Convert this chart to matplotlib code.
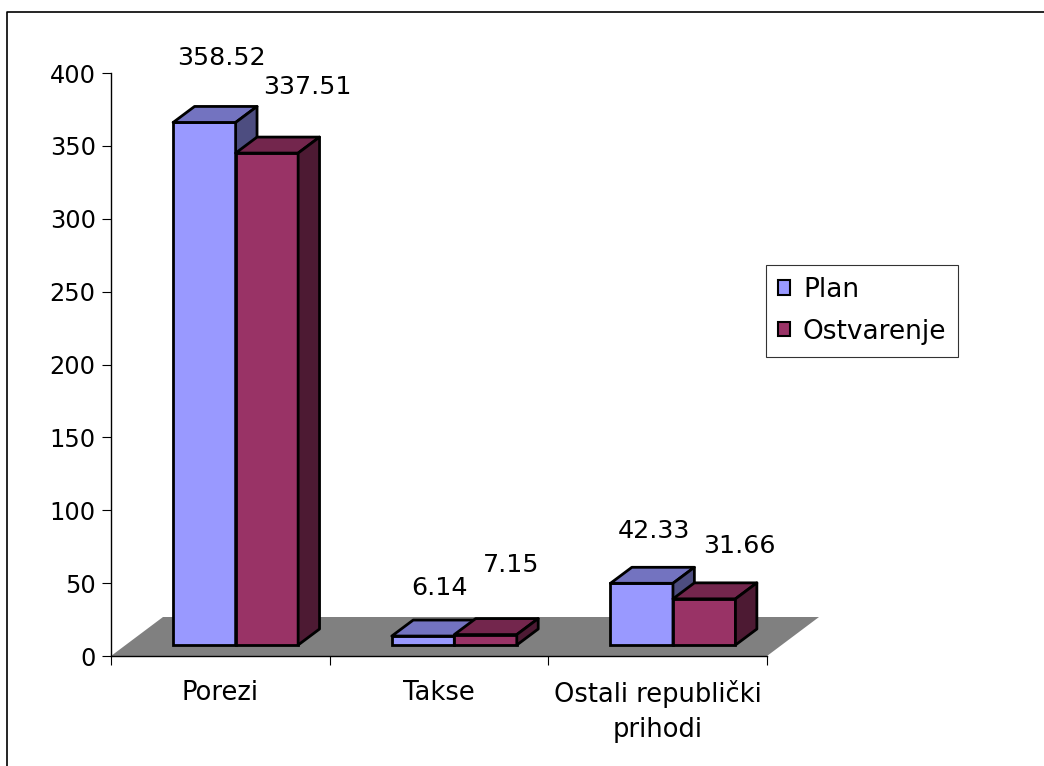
import matplotlib
matplotlib.use("Agg")
import matplotlib.pyplot as plt
from matplotlib.patches import Polygon, Patch
from matplotlib.lines import Line2D

# ---- data ----
categories = ["Porezi", "Takse", "Ostali republički\nprihodi"]
series_names = ["Plan", "Ostvarenje"]
plan = [358.52, 6.14, 42.33]
ostvarenje = [337.51, 7.15, 31.66]
label_texts_plan = ["358.52", "6.14", "42.33"]
label_texts_ost = ["337.51", "7.15", "31.66"]
y_ticks = [0, 50, 100, 150, 200, 250, 300, 350, 400]

# ---- style ----
plan_colors = {"front": "#9999FF", "top": "#7373C0", "side": "#4D4D80"}
ost_colors = {"front": "#993366", "top": "#73264D", "side": "#4D1A33"}
floor_color = "#808080"
# label offsets (pixels) relative to top-centre of bar front face
label_offsets_plan = [(17, 64), (16, 48), (12, 52)]
label_offsets_ost = [(40, 66), (26, 70), (35, 53)]

W, H = 1044, 766
fig = plt.figure(figsize=(W / 100, H / 100), dpi=100)
plt.rcParams["font.family"] = ["DejaVu Sans"]

ax_l, ax_r, ax_t, ax_b = 111, 767, 73, 656
ax = fig.add_axes([ax_l / W, (H - ax_b) / H, (ax_r - ax_l) / W, (ax_b - ax_t) / H])
ax.set_xlim(-0.5, len(categories) - 0.5)
ax.set_ylim(0, 400)

px_x = (ax_r - ax_l) / len(categories)   # pixels per x unit
px_y = (ax_b - ax_t) / 400.0             # pixels per y unit

def dx(p):
    return p / px_x

def dy(p):
    return p / px_y

# 3D geometry (pixels)
gap_front = (15.3, 11.0)
bar_depth = (21.4, 16.0)
floor_depth = (52.0, 39.0)
bar_w = dx(62.5)

# floor
x0, x1 = -0.5, len(categories) - 0.5
floor = Polygon([(x0, 0), (x1, 0), (x1 + dx(floor_depth[0]), dy(floor_depth[1])),
                 (x0 + dx(floor_depth[0]), dy(floor_depth[1]))],
                closed=True, facecolor=floor_color, edgecolor="none", zorder=1, clip_on=False)
ax.add_patch(floor)

lw = 2.0
fx, fy = dx(gap_front[0]), dy(gap_front[1])
ddx, ddy = dx(bar_depth[0]), dy(bar_depth[1])

def draw_bar(xl, val, cols, z):
    bottom = fy
    top = fy + val
    xr = xl + bar_w
    ax.bar([xl], [val], bottom=bottom, width=bar_w, align="edge",
           facecolor=cols["front"], edgecolor="black", linewidth=lw, zorder=z, clip_on=False)
    ax.add_patch(Polygon([(xl, top), (xl + ddx, top + ddy), (xr + ddx, top + ddy), (xr, top)],
                         closed=True, facecolor=cols["top"], edgecolor="black", linewidth=lw,
                         joinstyle="round", zorder=z, clip_on=False))
    ax.add_patch(Polygon([(xr, bottom), (xr + ddx, bottom + ddy), (xr + ddx, top + ddy), (xr, top)],
                         closed=True, facecolor=cols["side"], edgecolor="black", linewidth=lw,
                         joinstyle="round", zorder=z, clip_on=False))
    return (xl + xr) / 2, top

for i in range(len(categories)):
    c = i + fx
    cx, top = draw_bar(c - bar_w, plan[i], plan_colors, 3 + 2 * i)
    ax.annotate(label_texts_plan[i], xy=(cx, top), xytext=label_offsets_plan[i],
                textcoords="offset pixels", ha="center", va="center", fontsize=18.3,
                annotation_clip=False, zorder=20)
    cx, top = draw_bar(c, ostvarenje[i], ost_colors, 4 + 2 * i)
    ax.annotate(label_texts_ost[i], xy=(cx, top), xytext=label_offsets_ost[i],
                textcoords="offset pixels", ha="center", va="center", fontsize=18.3,
                annotation_clip=False, zorder=20)

# axes styling
for s in ["top", "right"]:
    ax.spines[s].set_visible(False)
ax.spines["left"].set_linewidth(1.0)
ax.spines["bottom"].set_linewidth(1.0)
ax.spines["left"].set_zorder(30)
ax.spines["bottom"].set_zorder(30)
ax.set_facecolor("none")
ax.set_yticks(y_ticks)
ax.set_yticklabels([str(t) for t in y_ticks], fontsize=17.3)
ax.tick_params(axis="y", length=6.5, width=0.8, pad=4.5, direction="out")
ax.set_xticks(range(len(categories)))
ax.set_xticklabels(categories, fontsize=18.5, linespacing=1.45)
ax.set_xticks([k - 0.5 for k in range(len(categories) + 1)], minor=True)
ax.tick_params(axis="x", which="major", length=0, pad=17)
ax.tick_params(axis="x", which="minor", length=6.5, width=0.8, direction="out")

# legend
handles = [Patch(facecolor=plan_colors["front"], edgecolor="black", linewidth=1.5),
           Patch(facecolor=ost_colors["front"], edgecolor="black", linewidth=1.5)]
leg = fig.legend(handles, series_names, loc="upper left",
                 bbox_to_anchor=(766 / W, 1 - 265 / H), fontsize=19,
                 handlelength=0.45, handleheight=0.45, handletextpad=0.5,
                 labelspacing=0.6, borderpad=0.45, borderaxespad=0,
                 fancybox=False, frameon=True, edgecolor="black")
leg.get_frame().set_linewidth(0.8)

# chart border (left and top visible)
fig.add_artist(Line2D([6.5 / W, 6.5 / W, 1.0], [0.0, 1 - 11.5 / H, 1 - 11.5 / H],
                      color="black", linewidth=1.2, transform=fig.transFigure))

fig.savefig("out.png", dpi=100)
